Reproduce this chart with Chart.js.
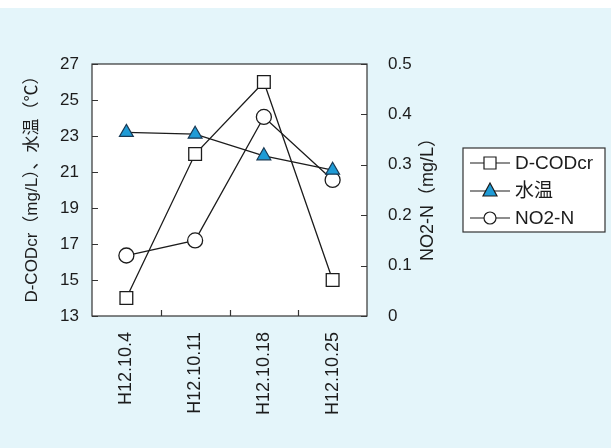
<!DOCTYPE html>
<html>
<head>
<meta charset="utf-8">
<script src="https://cdn.jsdelivr.net/npm/chart.js@4/dist/chart.umd.min.js"></script>
<style>
  html, body { margin: 0; padding: 0; background: #fff; }
  #wrap { width: 611px; height: 448px; }
</style>
</head>
<body>
<div id="wrap"><canvas id="chart" width="611" height="448"></canvas></div>
<script>
const categories = ['H12.10.4', 'H12.10.11', 'H12.10.18', 'H12.10.25'];
const codValues = [14, 22, 26, 15];
const tempValues = [23.2, 23.1, 21.9, 21.1];
const no2Values = [0.12, 0.15, 0.395, 0.27];
const seriesNames = ['D-CODcr', '水温', 'NO2-N'];
const leftTitle = 'D-CODcr（mg/L）、水温（℃）';
const rightTitle = 'NO2-N（mg/L）';

const FONT = "'Liberation Sans', 'Noto Sans CJK JP', sans-serif";
const INK = '#1c1c1c';
const BLUE = '#1f9bd6';

const framePlugin = {
    id: 'frame',
    beforeDraw(chart) {
        const ctx = chart.ctx;
        const a = chart.chartArea;
        ctx.save();
        ctx.fillStyle = '#ffffff';
        ctx.fillRect(0, 0, chart.width, chart.height);
        ctx.fillStyle = '#e4f5fa';
        ctx.fillRect(0, 8, chart.width, chart.height - 8);
        ctx.fillStyle = '#ffffff';
        ctx.fillRect(a.left, a.top, a.right - a.left, a.bottom - a.top);
        ctx.restore();
    },
    beforeDatasetsDraw(chart) {
        const ctx = chart.ctx;
        const a = chart.chartArea;
        const y = chart.scales.y;
        const y2 = chart.scales.y2;
        const x = chart.scales.x;
        ctx.save();
        ctx.strokeStyle = '#333';
        ctx.lineWidth = 1.2;
        ctx.strokeRect(a.left, a.top, a.right - a.left, a.bottom - a.top);
        ctx.beginPath();
        y.ticks.forEach(t => {
            const py = Math.round(y.getPixelForValue(t.value)) + 0.5;
            ctx.moveTo(a.left, py);
            ctx.lineTo(a.left + 6, py);
        });
        y2.ticks.forEach(t => {
            const py = Math.round(y2.getPixelForValue(t.value)) + 0.5;
            ctx.moveTo(a.right, py);
            ctx.lineTo(a.right - 6, py);
        });
        for (let i = 0; i < categories.length - 1; i++) {
            const px = Math.round((x.getPixelForValue(i) + x.getPixelForValue(i + 1)) / 2) + 0.5;
            ctx.moveTo(px, a.bottom);
            ctx.lineTo(px, a.bottom - 6);
        }
        ctx.stroke();
        ctx.restore();
    },
    afterDraw(chart) {
        const ctx = chart.ctx;
        ctx.save();
        ctx.fillStyle = INK;
        ctx.textAlign = 'center';
        ctx.textBaseline = 'middle';

        ctx.font = '17px ' + FONT;
        ctx.translate(32, 185);
        ctx.rotate(-Math.PI / 2);
        ctx.fillText(leftTitle, 0, 0);
        ctx.setTransform(1, 0, 0, 1, 0, 0);

        ctx.font = '18px ' + FONT;
        ctx.translate(428, 195);
        ctx.rotate(-Math.PI / 2);
        ctx.fillText(rightTitle, 0, 0);
        ctx.setTransform(1, 0, 0, 1, 0, 0);

        // legend
        const bx = 463, by = 148, bw = 142, bh = 84;
        ctx.fillStyle = '#ffffff';
        ctx.fillRect(bx, by, bw, bh);
        ctx.strokeStyle = '#333';
        ctx.lineWidth = 1.2;
        ctx.strokeRect(bx, by, bw, bh);
        const rows = [163, 191, 218];
        chart.data.datasets.forEach((ds, i) => {
            const ry = rows[i];
            ctx.strokeStyle = INK;
            ctx.lineWidth = 1.2;
            ctx.beginPath();
            ctx.moveTo(470, ry);
            ctx.lineTo(510, ry);
            ctx.stroke();
            ctx.fillStyle = ds.pointBackgroundColor;
            ctx.beginPath();
            if (ds.pointStyle === 'rect') {
                ctx.rect(484, ry - 6, 12, 12);
            } else if (ds.pointStyle === 'triangle') {
                ctx.moveTo(490, ry - 8);
                ctx.lineTo(497, ry + 5);
                ctx.lineTo(483, ry + 5);
                ctx.closePath();
            } else {
                ctx.arc(490, ry, 6, 0, Math.PI * 2);
            }
            ctx.fill();
            ctx.stroke();
            ctx.fillStyle = INK;
            ctx.font = '19px ' + FONT;
            ctx.textAlign = 'left';
            ctx.fillText(ds.label, 515, ry + 1);
        });
        ctx.restore();
    }
};

new Chart(document.getElementById('chart').getContext('2d'), {
    type: 'line',
    data: {
        labels: categories,
        datasets: [
            {
                label: seriesNames[0],
                data: codValues,
                yAxisID: 'y',
                borderColor: INK,
                borderWidth: 1.3,
                pointStyle: 'rect',
                pointRadius: 9,
                pointBorderWidth: 1.3,
                pointBorderColor: INK,
                pointBackgroundColor: '#ffffff',
                tension: 0
            },
            {
                label: seriesNames[1],
                data: tempValues,
                yAxisID: 'y',
                borderColor: INK,
                borderWidth: 1.3,
                pointStyle: 'triangle',
                pointRadius: 8,
                pointBorderWidth: 1.2,
                pointBorderColor: '#1a3a55',
                pointBackgroundColor: BLUE,
                tension: 0
            },
            {
                label: seriesNames[2],
                data: no2Values,
                yAxisID: 'y2',
                borderColor: INK,
                borderWidth: 1.3,
                pointStyle: 'circle',
                pointRadius: 7.5,
                pointBorderWidth: 1.3,
                pointBorderColor: INK,
                pointBackgroundColor: '#ffffff',
                tension: 0
            }
        ]
    },
    options: {
        responsive: false,
        animation: false,
        events: [],
        layout: {
            padding: { top: 64, left: 0, right: 0, bottom: 0 }
        },
        scales: {
            x: {
                type: 'category',
                offset: true,
                grid: { display: false, drawTicks: false },
                border: { display: false },
                ticks: {
                    color: INK,
                    font: { family: FONT, size: 18 },
                    minRotation: 90,
                    maxRotation: 90,
                    padding: 16
                },
                afterFit(scale) { scale.height = 132; }
            },
            y: {
                position: 'left',
                min: 13,
                max: 27,
                grid: { display: false, drawTicks: false },
                border: { display: false },
                ticks: {
                    stepSize: 2,
                    color: INK,
                    font: { family: FONT, size: 17 },
                    padding: 13
                },
                afterFit(scale) { scale.width = 92; }
            },
            y2: {
                position: 'right',
                min: 0,
                max: 0.5,
                grid: { display: false, drawTicks: false },
                border: { display: false },
                ticks: {
                    stepSize: 0.1,
                    color: INK,
                    font: { family: FONT, size: 17 },
                    padding: 21
                },
                afterFit(scale) { scale.width = 244; }
            }
        },
        plugins: {
            legend: { display: false },
            tooltip: { enabled: false }
        }
    },
    plugins: [framePlugin]
});
</script>
</body>
</html>
